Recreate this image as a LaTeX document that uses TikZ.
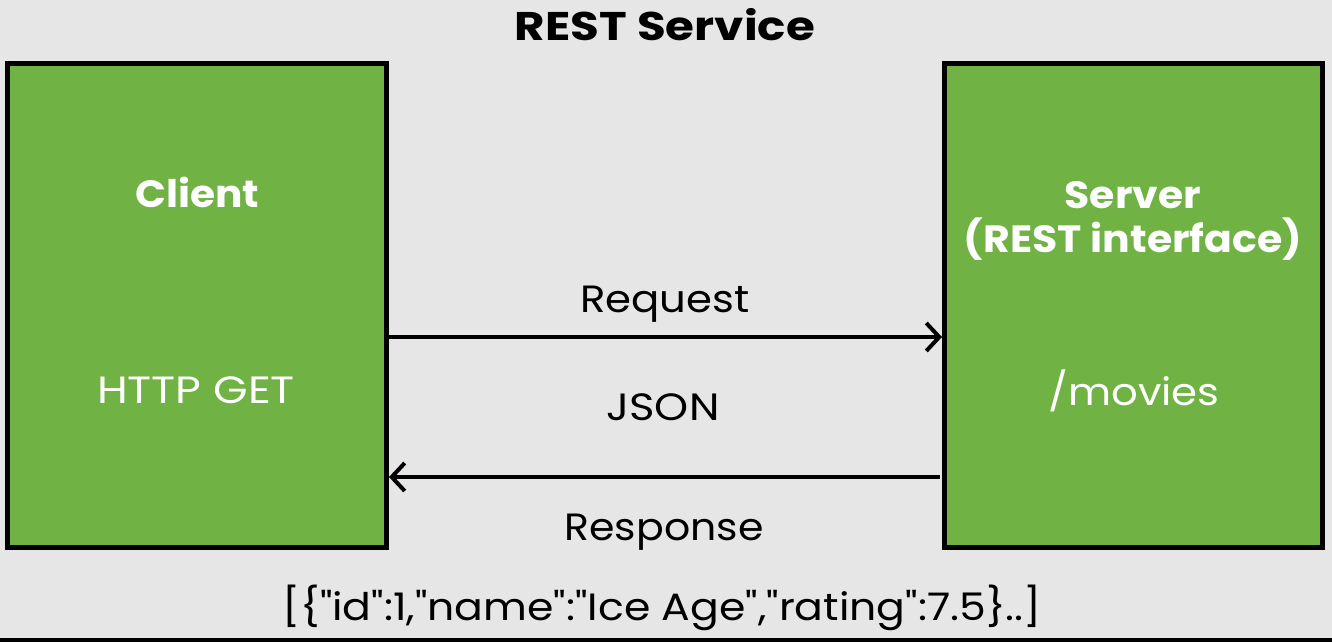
\documentclass[tikz,border=0pt]{standalone}
\usepackage{fontspec}
\setmainfont{Poppins}
\newfontfamily\datafont{Poppins}[Ligatures=TeXOff]
\usetikzlibrary{arrows.meta}
\definecolor{bg}{HTML}{E6E6E6}
\definecolor{boxgreen}{HTML}{70B244}
\tikzset{
  box/.style={fill=boxgreen, draw=black, line width=5pt},
  boxtext/.style={text=white, font=\fontsize{38}{44}\selectfont, anchor=base},
  boldtext/.style={text=white, font=\fontsize{38}{44}\selectfont\bfseries, anchor=base},
  lbl/.style={text=black, font=\fontsize{38}{44}\selectfont, anchor=base},
  conn/.style={line width=4pt, -{Straight Barb[length=13pt, width=28pt, line width=4pt]}}
}
\begin{document}
\begin{tikzpicture}[x=1pt, y=-1pt]
\fill[bg] (0,0) rectangle (1332,642);
\useasboundingbox (0,0) rectangle (1332,642);
\fill[black] (0,638) rectangle (1332,642);
\node[anchor=base, font=\fontsize{40}{46}\selectfont\bfseries, xscale=1.17] (title) at (665,41) {REST Service};
\draw[box] (7.5,63.5) rectangle (386.5,547.5);
\draw[box] (944.5,63.5) rectangle (1322.5,547.5);
\node[boldtext, xscale=1.07] (client) at (197,207) {Client};
\node[boxtext, xscale=1.17] (get) at (196,403) {HTTP GET};
\node[boldtext, xscale=1.08] (server) at (1133,208) {Server};
\node[boldtext, xscale=1.08] (iface) at (1133,252) {(REST interface)};
\node[boxtext, xscale=1.10] (movies) at (1134,405) {/movies};
\coordinate (reqA) at (386.5,337);
\coordinate (reqB) at (942,337);
\coordinate (resA) at (940,477);
\coordinate (resB) at (389,477);
\draw[conn] (reqA) -- (reqB);
\draw[conn] (resA) -- (resB);
\node[lbl, xscale=1.10] (req) at (665,312) {Request};
\node[lbl, xscale=1.14] (json) at (663,420) {JSON};
\node[lbl, xscale=1.08] (resp) at (664,540) {Response};
\node[anchor=base, font=\fontsize{38}{44}\datafont, xscale=1.12] (data) at (662,620) {[\{"id":1,"name":"Ice Age","rating":7.5\}..]};
\end{tikzpicture}
\end{document}
